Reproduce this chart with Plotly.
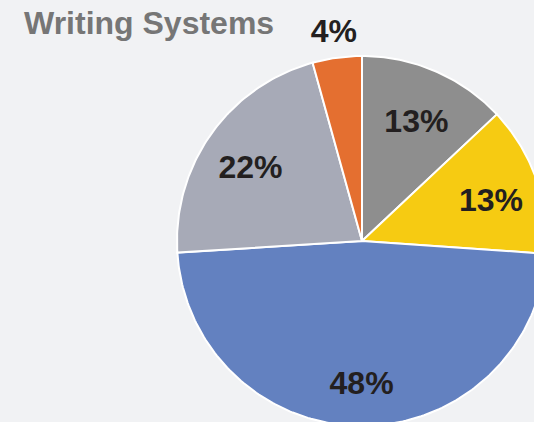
import numpy as np
import plotly.graph_objects as go

# Data
categories = ["Arabic", "Devanagari", "Latin", "Chinese", "Cyrillic"]
shares = [13.0, 13.1, 47.9, 21.7, 4.3]
slice_colors = ["#8e8e8e", "#f6cb12", "#6381c0", "#a7aab7", "#e46f30"]
label_outside = [False, False, False, False, True]
title_text = "Writing Systems"

W, H = 534, 422
CX, CY, R = 362, 241, 185  # pie centre / radius in pixels

fig = go.Figure()

total = float(sum(shares))
start = 0.0
label_x, label_y, label_txt = [], [], []
for name, val, col, out in zip(categories, shares, slice_colors, label_outside):
    span = 2 * np.pi * val / total
    n = int(np.ceil(np.degrees(span))) + 2
    t = np.linspace(start, start + span, n)
    xs = np.concatenate([[0.0], np.sin(t), [0.0]])
    ys = np.concatenate([[0.0], np.cos(t), [0.0]])
    pct = val / total
    fig.add_trace(go.Scatter(
        x=xs, y=ys, mode="lines", fill="toself", fillcolor=col,
        line=dict(color="white", width=2),
        name=name, hoveron="fills",
        hovertemplate=f"{name}: {pct:.0%}<extra></extra>",
        showlegend=False,
    ))
    mid = start + span / 2
    rf = 1.13 if out else 0.74
    dy = 0.0 if out else -0.045  # small downward nudge for inside labels
    label_x.append(rf * np.sin(mid))
    label_y.append(rf * np.cos(mid) + dy)
    label_txt.append(f"{pct:.0%}")
    start += span

fig.add_trace(go.Scatter(
    x=label_x, y=label_y, text=label_txt, mode="text",
    textposition="middle center",
    textfont=dict(family="Liberation Sans, Arial, sans-serif", size=32,
                  color="#231f20", weight="bold"),
    hoverinfo="skip", showlegend=False,
))

fig.update_xaxes(range=[-CX / R, (W - CX) / R], visible=False, fixedrange=True)
fig.update_yaxes(range=[-(H - CY) / R, CY / R], visible=False, fixedrange=True)

fig.update_layout(
    width=W,
    height=H,
    margin=dict(l=0, r=0, t=0, b=0),
    paper_bgcolor="#f1f2f4",
    plot_bgcolor="#f1f2f4",
    title=dict(
        text=title_text,
        x=24 / W,
        xanchor="left",
        xref="paper",
        y=1 - 23 / H,
        yref="container",
        yanchor="middle",
        font=dict(family="Liberation Sans, Arial, sans-serif", size=32,
                  color="#767676", weight="bold"),
    ),
)

fig.write_html(
    "out.html",
    config={"displayModeBar": False},
    post_script="document.body.style.margin='0';document.body.style.background='#f1f2f4';",
)
